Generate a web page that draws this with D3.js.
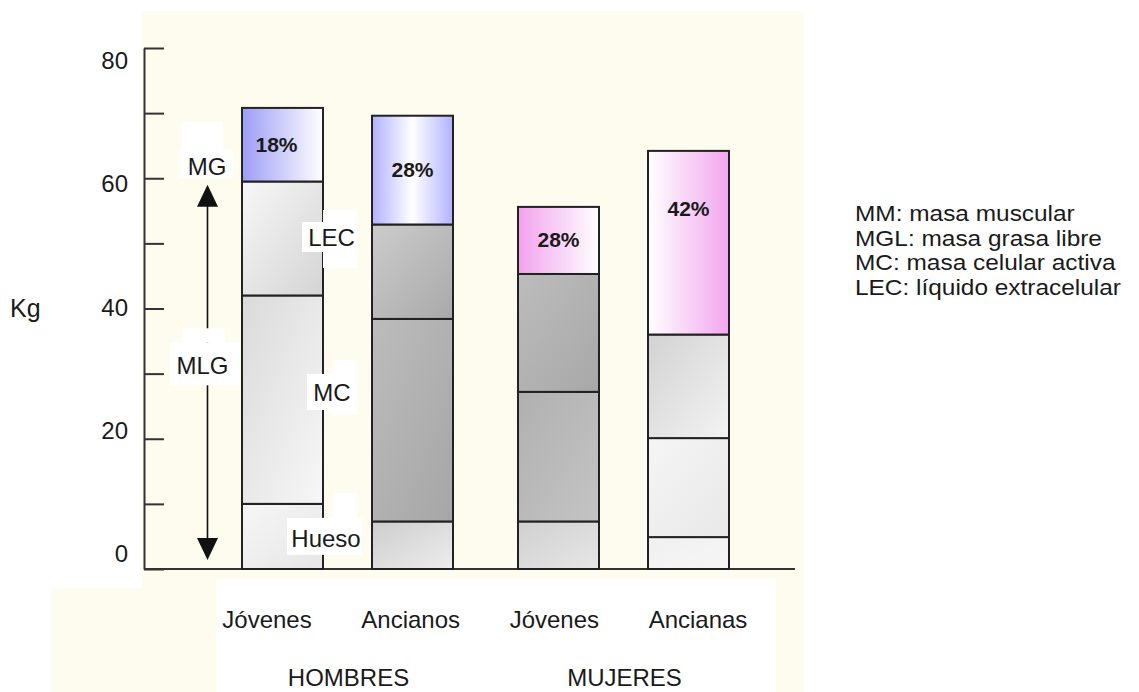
<!DOCTYPE html>
<html>
<head>
<meta charset="utf-8">
<script src="https://cdn.jsdelivr.net/npm/d3@7"></script>
<style>
  body { margin: 0; background: #fff; }
  text { font-family: Arial, "Liberation Sans", sans-serif; fill: #1a1a1a; }
</style>
</head>
<body>
<svg id="chart" width="1139" height="692"></svg>
<script>
// data (kg)
const groups = ["HOMBRES", "MUJERES"];
const categories = ["Jóvenes", "Ancianos", "Jóvenes", "Ancianas"];
const barGroup = ["HOMBRES", "HOMBRES", "MUJERES", "MUJERES"];
const segments = ["Hueso", "MC", "LEC", "MG"];
const hueso = [10, 7.3, 7.3, 4.9];
const mc = [32, 31.1, 19.9, 15.2];
const lec = [17.5, 14.5, 18.1, 15.9];
const mg = [11.3, 16.7, 10.3, 28.2];
const mgPct = ["18%", "28%", "28%", "42%"];
const yTicks = [0, 10, 20, 30, 40, 50, 60, 70, 80];
const yTickLabels = [0, 20, 40, 60, 80];
const legendLines = ["MM: masa muscular", "MGL: masa grasa libre", "MC: masa celular activa", "LEC: líquido extracelular"];

// styles
const cream = "#fefbef";
const grayShades = [
  { Hueso: ["#f6f6f6", "#e6e6e6"], MC: ["#dadada", "#f7f7f7"], LEC: ["#f7f7f7", "#d4d4d4"] },
  { Hueso: ["#cdcdcd", "#ededed"], MC: ["#bcbcbc", "#a6a6a6"], LEC: ["#cccccc", "#a9a9a9"] },
  { Hueso: ["#d0d0d0", "#e6e6e6"], MC: ["#b0b0b0", "#c4c4c4"], LEC: ["#bcbcbc", "#a8a8a8"] },
  { Hueso: ["#f0f0f0", "#f6f6f6"], MC: ["#f5f5f5", "#e8e8e8"], LEC: ["#d2d2d2", "#f3f3f3"] }
];
const mgShades = [
  ["#9d9df6", "#ffffff"],
  ["#b2b2ff", "#ffffff", "#b2b2ff"],
  ["#f2a2ee", "#ffffff"],
  ["#ffffff", "#f2a6ee"]
];

const svg = d3.select("#chart");

const y = d3.scaleLinear().domain([0, 80]).range([569, 48]);
const yLab = d3.scaleLinear().domain([0, 80]).range([562, 69]);
const outer = d3.scaleBand().domain(groups).range([242, 729]).paddingInner(0.2355);
const inner = d3.scaleBand().domain([0, 1]).range([0, outer.bandwidth()]).paddingInner(0.377);
const slot = categories.map((c, i) => barGroup.slice(0, i).filter(g => g === barGroup[i]).length);
const bx = i => outer(barGroup[i]) + inner(slot[i]);
const bw = inner.bandwidth();
const labX = d3.scalePoint().domain(d3.range(categories.length)).range([267, 698]);

// background panels
svg.append("rect").attr("x", 51).attr("y", 11).attr("width", 753).attr("height", 681).attr("fill", cream);
svg.append("rect").attr("x", 0).attr("y", 0).attr("width", 142).attr("height", 588).attr("fill", "#fff");
svg.append("rect").attr("x", 216).attr("y", 579).attr("width", 560).attr("height", 113).attr("fill", "#fff");

// gradients
const defs = svg.append("defs");
function grad(id, stops, x2, y2) {
  const g = defs.append("linearGradient").attr("id", id)
    .attr("x1", 0).attr("y1", 0).attr("x2", x2).attr("y2", y2);
  stops.forEach((c, k) => g.append("stop").attr("offset", k / (stops.length - 1)).attr("stop-color", c));
}
categories.forEach((c, i) => {
  ["Hueso", "MC", "LEC"].forEach(k => grad(`f-${i}-${k}`, grayShades[i][k], 1, 1));
  grad(`f-${i}-MG`, mgShades[i], 1, 0);
});

// y axis
svg.append("g")
  .attr("transform", "translate(144,0)")
  .call(d3.axisRight(y).tickValues(yTicks).tickSize(20).tickSizeOuter(0).tickFormat(""))
  .call(g => g.selectAll("line,path").attr("stroke", "#333").attr("stroke-width", 2));

svg.append("g").selectAll("text")
  .data(yTickLabels)
  .join("text")
  .attr("x", 128).attr("y", d => yLab(d))
  .attr("text-anchor", "end").attr("font-size", 24)
  .text(d => d);

svg.append("text").attr("x", 10).attr("y", 317).attr("font-size", 25).text("Kg");

// x axis line
svg.append("line")
  .attr("x1", 144).attr("x2", 795).attr("y1", y(0)).attr("y2", y(0))
  .attr("stroke", "#333").attr("stroke-width", 2);

// stacked bars
const rows = categories.map((c, i) => ({ Hueso: hueso[i], MC: mc[i], LEC: lec[i], MG: mg[i] }));
const series = d3.stack().keys(segments)(rows);
const barsG = svg.append("g");
series.forEach(s => {
  barsG.append("g").selectAll("rect")
    .data(s)
    .join("rect")
    .attr("x", (d, i) => bx(i))
    .attr("y", d => y(d[1]))
    .attr("width", bw)
    .attr("height", d => y(d[0]) - y(d[1]))
    .attr("fill", (d, i) => `url(#f-${i}-${s.key})`)
    .attr("stroke", "#222").attr("stroke-width", 2);
});

// percent labels in MG segment
const mgSeries = series[segments.indexOf("MG")];
svg.append("g").selectAll("text")
  .data(mgSeries)
  .join("text")
  .attr("x", (d, i) => bx(i) + bw / 2 - (i === 0 ? 6 : 0))
  .attr("y", d => Math.min((y(d[0]) + y(d[1])) / 2, y(d[1]) + 58) + 7)
  .attr("text-anchor", "middle").attr("font-size", 21).attr("font-weight", "bold")
  .text((d, i) => mgPct[i]);

// MG / MLG arrow
const ax = 207.5;
const tipTop = y(59), tipBot = y(1.4);
svg.append("line").attr("x1", ax).attr("x2", ax).attr("y1", tipTop + 20).attr("y2", tipBot - 20)
  .attr("stroke", "#111").attr("stroke-width", 1.6);
svg.append("path").attr("d", `M${ax},${tipTop}L${ax + 10.5},${tipTop + 22}L${ax - 10.5},${tipTop + 22}Z`).attr("fill", "#111");
svg.append("path").attr("d", `M${ax},${tipBot}L${ax + 10.5},${tipBot - 22}L${ax - 10.5},${tipBot - 22}Z`).attr("fill", "#111");

// boxed annotations: [text, x, value, main box, second box]
const bar1Right = bx(0) + bw;
const notes = [
  ["MG", ax - 0.5, 60.5, [-27, -25, 26, 3], [-25, -53, 16, -25]],
  ["MLG", ax - 5, 29.9, [-32.5, -32, 37.5, 11], [-20.5, -46, 22.5, -32]],
  ["LEC", bar1Right + 8.5, 49.6, [-29.5, -24, 24.5, 6], [-8.5, -36, 25.5, 22]],
  ["MC", bar1Right + 9, 25.8, [-25, -27, 25, 9], [1, -41, 25, 14]],
  ["Hueso", bar1Right + 3, 3.4, [-39, -29, 36, 8], [7, -54, 31, -29]]
];
const noteG = svg.append("g");
notes.forEach(([t, cx, v, b1, b2]) => {
  const by = y(v);
  [b2, b1].forEach(b => noteG.append("rect")
    .attr("x", cx + b[0]).attr("y", by + b[1])
    .attr("width", b[2] - b[0]).attr("height", b[3] - b[1])
    .attr("fill", "#fff"));
  noteG.append("text").attr("x", cx).attr("y", by)
    .attr("text-anchor", "middle").attr("font-size", 24).text(t);
});

// category and group labels
svg.append("g").selectAll("text")
  .data(categories)
  .join("text")
  .attr("x", (d, i) => labX(i)).attr("y", 628)
  .attr("text-anchor", "middle").attr("font-size", 24)
  .text(d => d);

svg.append("g").selectAll("text")
  .data(groups)
  .join("text")
  .attr("x", d => outer(d) + outer.bandwidth() / 2 + 1).attr("y", 686)
  .attr("text-anchor", "middle").attr("font-size", 24)
  .text(d => d);

// legend (glyphs in the picture are a little wider than Arial)
svg.append("g")
  .attr("transform", "translate(855,0) scale(1.11,1)")
  .selectAll("text")
  .data(legendLines)
  .join("text")
  .attr("x", 0).attr("y", (d, i) => 221 + i * 24.6)
  .attr("font-size", 22)
  .text(d => d);
</script>
</body>
</html>
